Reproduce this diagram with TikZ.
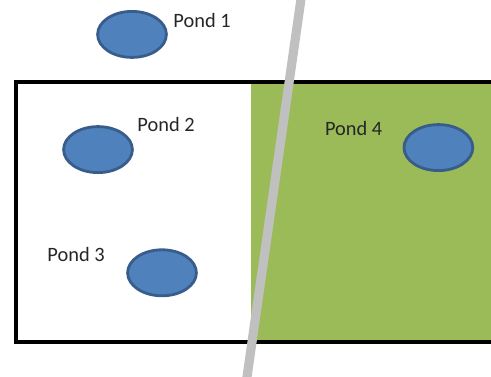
\documentclass[tikz,border=0pt]{standalone}
\usepackage{fontspec}
\setmainfont{Carlito}
\usepackage{tikz}
\usetikzlibrary{positioning,shapes.geometric}
\definecolor{pondblue}{RGB}{79,129,189}
\definecolor{pondedge}{RGB}{56,93,138}
\definecolor{fieldgreen}{RGB}{155,187,89}
\definecolor{linegray}{RGB}{192,192,192}
\tikzset{
  pond/.style={ellipse, fill=pondblue, draw=pondedge, line width=2pt,
      minimum width=1.72cm, minimum height=1.15cm, inner sep=0pt},
  plab/.style={font=\fontsize{14.5}{17}\selectfont, text=black!85, anchor=west, inner sep=0pt},
  border/.style={black, line width=3.2pt},
  divide/.style={linegray, line width=6.5pt},
}

\begin{document}
\begin{tikzpicture}
\clip (0,0) rectangle (12.275,9.4);
\useasboundingbox (0,0) rectangle (12.275,9.4);
%---- the field
\fill[fieldgreen] (6.275,0.85) rectangle (12.6,7.35);
\draw[border] (12.6,7.35) -- (0.4,7.35) -- (0.4,0.85) -- (12.6,0.85);
%---- the dividing line
\coordinate (ltop) at (7.55,9.6);
\coordinate (lbot) at (6.15,-0.2);
\draw[divide] (ltop) -- (lbot);
%---- the ponds
\node[pond] (p1) at (3.3,8.54) {};
\node[pond] (p2) at (2.45,5.66) {};
\node[pond] (p3) at (4.05,2.58) {};
\node[pond] (p4) at (10.96,5.71) {};
\node[plab] (l1) at (4.33,8.9) {Pond 1};
\node[plab] (l2) at (3.43,6.28) {Pond 2};
\node[plab] (l3) at (1.18,3.03) {Pond 3};
\node[plab] (l4) at (8.12,6.2) {Pond 4};
\end{tikzpicture}
\end{document}
